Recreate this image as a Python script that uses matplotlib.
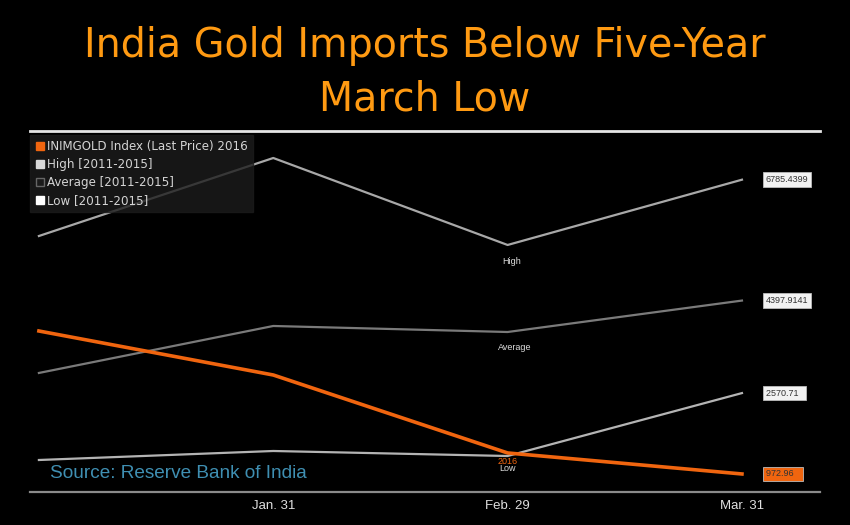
import matplotlib.pyplot as plt
from matplotlib.lines import Line2D

# ------------------------------------------------------------
# DATA
# ------------------------------------------------------------
positions = [0, 1, 2, 3]
tick_labels = ["Jan. 31", "Feb. 29", "Mar. 31"]

gold_2016 = [3797, 2928, 1388, 972.96]
high_5y = [5673, 7214, 5496, 6785.4399]
avg_5y = [2968, 3896, 3777, 4397.9141]
low_5y = [1249, 1427, 1328, 2570.71]

end_labels = ["6785.4399", "4397.9141", "2570.71", "972.96"]
legend_labels = [
    "INIMGOLD Index (Last Price) 2016",
    "High [2011-2015]",
    "Average [2011-2015]",
    "Low [2011-2015]",
]

# ------------------------------------------------------------
# STYLE
# ------------------------------------------------------------
orange = "#f0650f"
c_high = "#a8a8a8"
c_avg = "#7a7a7a"
c_low = "#b4b4b4"
narrow = ["Liberation Sans Narrow", "Liberation Sans", "DejaVu Sans"]

plt.rcParams["font.family"] = ["Liberation Sans", "DejaVu Sans"]

fig = plt.figure(figsize=(8.5, 5.25), dpi=100, facecolor="black")
ax = fig.add_axes([30 / 850, 1 - 492 / 525, 790 / 850, 361 / 525])
ax.set_facecolor("black")

ax.plot(positions, high_5y, color=c_high, lw=1.6)
ax.plot(positions, avg_5y, color=c_avg, lw=1.6)
ax.plot(positions, low_5y, color=c_low, lw=1.6)
ax.plot(positions, gold_2016, color=orange, lw=2.6)

ax.set_xlim(-0.038, 3.333)
ax.set_ylim(617, 7747)

for s in ["left", "right"]:
    ax.spines[s].set_visible(False)
ax.spines["top"].set_color("#e6e6e6")
ax.spines["top"].set_linewidth(2)
ax.spines["bottom"].set_color("#8a8a8a")
ax.spines["bottom"].set_linewidth(1.6)

ax.set_yticks([])
ax.set_xticks(positions[1:])
ax.set_xticklabels(tick_labels, color="#e0e0e0", fontsize=9.5, family=narrow)
ax.tick_params(axis="x", length=0, pad=6)

# inline labels at Feb. 29
ax.annotate("High", (2, high_5y[2]), xytext=(3, -12), textcoords="offset points",
            ha="center", va="center", color="#dddddd", fontsize=6.5)
ax.annotate("Average", (2, avg_5y[2]), xytext=(5, -11), textcoords="offset points",
            ha="center", va="center", color="#dddddd", fontsize=6.5)
ax.annotate("Low", (2, low_5y[2]), xytext=(0, -9), textcoords="offset points",
            ha="center", va="center", color="#dddddd", fontsize=6.5)
ax.annotate("2016", (2, gold_2016[2]), xytext=(0, -6), textcoords="offset points",
            ha="center", va="center", color=orange, fontsize=6.5)

# value tags at the right end
ends = [high_5y[3], avg_5y[3], low_5y[3], gold_2016[3]]
for val, lab in zip(ends, end_labels):
    fc = orange if lab == end_labels[3] else "#f2f2f2"
    ax.annotate(lab.ljust(9), (3, val), xytext=(17, 0), textcoords="offset points",
                ha="left", va="center", color="#333333", fontsize=6.5,
                family=narrow,
                bbox=dict(boxstyle="square,pad=0.3", fc=fc, ec="#bbbbbb", lw=0.6),
                annotation_clip=False)

# legend
handles = [
    Line2D([], [], ls="", marker="s", ms=6, mfc=orange, mec=orange),
    Line2D([], [], ls="", marker="s", ms=6, mfc="#d8d8d8", mec="#d8d8d8"),
    Line2D([], [], ls="", marker="s", ms=6, mfc="#1a1a1a", mec="#666666"),
    Line2D([], [], ls="", marker="s", ms=6, mfc="white", mec="white"),
]
leg = ax.legend(handles, legend_labels, loc="upper left", bbox_to_anchor=(0, 0.99),
                frameon=True, fancybox=False, handlelength=0.7,
                handletextpad=0.3, labelspacing=0.42, borderpad=0.45,
                borderaxespad=0, labelcolor="#d4d4d4",
                prop={"family": "DejaVu Sans", "size": 8.6})
leg.get_frame().set_facecolor("#1c1c1c")
leg.get_frame().set_edgecolor("#1c1c1c")

# source
ax.text(20 / 790, 0.05, "Source: Reserve Bank of India",
        transform=ax.transAxes, color="#3f8fb2", fontsize=13.7, ha="left", va="center")

# title
fig.text(0.5, 1 - 73 / 525, "India Gold Imports Below Five-Year\nMarch Low",
         ha="center", va="center", color="#ff9a12", fontsize=28.5,
         family="DejaVu Sans", linespacing=1.45)

fig.savefig("out.png", dpi=100, facecolor="black")
